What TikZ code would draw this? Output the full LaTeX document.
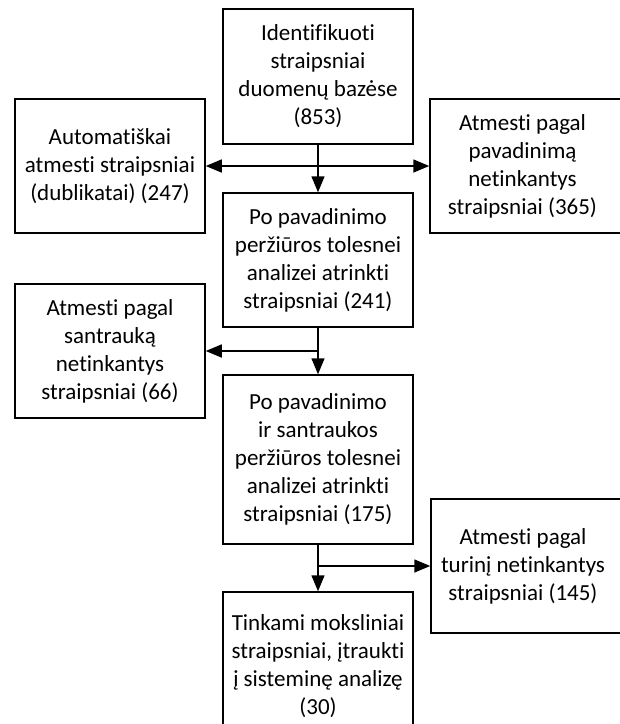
\documentclass[tikz,border=0pt]{standalone}
\usepackage{fontspec}
\setmainfont[Ligatures=NoCommon]{Carlito}
\usetikzlibrary{arrows.meta}

\begin{document}
\begin{tikzpicture}[x=0.5pt, y=-0.5pt,
  box/.style={draw, line width=0.75pt, align=center, inner sep=0pt,
    minimum width=95pt, minimum height=67pt,
    font=\fontsize{11.5}{14}\selectfont},
  arr/.style={line width=0.75pt, -{Triangle[length=8pt,width=6.5pt]}},
  darr/.style={line width=0.75pt, {Triangle[length=8pt,width=6.5pt]}-{Triangle[length=8pt,width=6.5pt]}}]

\useasboundingbox (0,0) rectangle (620,724);
\clip (0,0) rectangle (620,724);

% main column
\node[box, minimum height=67.5pt] (ident) at (318,76.5) {Identifikuoti\\straipsniai\\duomenų bazėse\\(853)};
\node[box] (sel1) at (318,260) {Po pavadinimo\\peržiūros tolesnei\\analizei atrinkti\\straipsniai (241)};
\node[box, minimum height=84.5pt] (sel2) at (318,459.5) {Po pavadinimo\\ir santraukos\\peržiūros tolesnei\\analizei atrinkti\\straipsniai (175)};
\node[box, minimum height=74pt] (final) at (318,666) {Tinkami moksliniai\\straipsniai, įtraukti\\į sisteminę analizę\\(30)};

% rejected
\node[box] (dup) at (110,166) {Automatiškai\\atmesti straipsniai\\(dublikatai) (247)};
\node[box, minimum width=97.5pt] (rtitle) at (527.5,166) {\hspace*{-5pt}Atmesti pagal\\\hspace*{-5pt}pavadinimą\\\hspace*{-5pt}netinkantys\\\hspace*{-5pt}straipsniai (365)};
\node[box] (rabs) at (110,351) {Atmesti pagal\\santrauką\\netinkantys\\straipsniai (66)};
\node[box, minimum width=97pt] (rfull) at (528,566) {\hspace*{-5pt}Atmesti pagal\\\hspace*{-5pt}turinį netinkantys\\\hspace*{-5pt}straipsniai (145)};

\draw[arr] (ident) -- (sel1);
\draw[darr] (dup.east) -- (rtitle.west);

\draw[arr] (sel1) -- (sel2);
\draw[arr] (sel1.south |- rabs.east) -- (rabs.east);

\draw[arr] (sel2) -- (final);
\draw[arr] (sel2.south |- rfull.west) -- (rfull.west);

\end{tikzpicture}
\end{document}
